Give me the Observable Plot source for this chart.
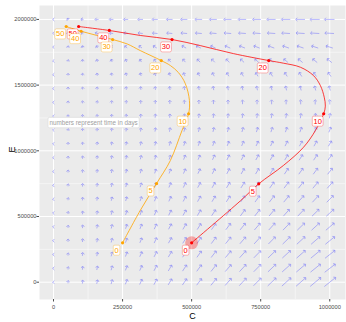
<!DOCTYPE html>
<html><head><meta charset="utf-8">
<script src="https://cdn.jsdelivr.net/npm/d3@7"></script>
<script src="https://cdn.jsdelivr.net/npm/@observablehq/plot@0.6"></script>
<style>body{margin:0;background:#fff} svg{display:block}</style>
</head><body><div id="chart"></div>
<script>
// ---- grid of the vector field ----
const colC = [0, 52632, 105263, 157895, 210526, 263158, 315789, 368421, 421053, 473684, 526316, 578947, 631579, 684211, 736842, 789474, 842105, 894737, 947368, 1000000];
const rowE = [2000000, 1894737, 1789474, 1684211, 1578947, 1473684, 1368421, 1263158, 1157895, 1052632, 947368, 842105, 736842, 631579, 526316, 421053, 315789, 210526, 105263, 0];
// estimated rates read from the arrows (rows top -> bottom)
const dCdt = [
[-0.3,-1,-2,-3,-3.5,-4,-4.5,-5,-5.5,-6,-6.5,-6.8,-7,-7.3,-7.6,-8,-8.3,-8.6,-9,-9.5],
[-0.3,-0.3,-1.5,-2.5,-3,-3.5,-4,-4.5,-5,-5.5,-5.8,-6.1,-6.4,-6.7,-7,-7.3,-7.6,-7.9,-8.2,-8.5],
[-0.3,-0.1,-0.5,-1,-1.5,-2,-2.5,-3,-3.3,-3.6,-4,-4.3,-4.6,-5,-5.2,-5.4,-5.6,-5.8,-6,-6.2],
[-0.3,0,-0.2,-0.5,-0.8,-1,-1.3,-1.6,-1.9,-2.2,-2.5,-2.7,-2.9,-3.1,-3.3,-3.5,-3.7,-3.9,-4,-4.2],
[-0.3,0,-0.1,-0.3,-0.4,-0.6,-0.8,-1,-1.1,-1.3,-1.5,-1.6,-1.8,-1.9,-2,-2.1,-2.2,-2.3,-2.4,-2.5],
[-0.3,0,0,-0.1,-0.2,-0.3,-0.3,-0.4,-0.5,-0.5,-0.6,-0.7,-0.7,-0.8,-0.8,-0.9,-0.9,-1,-1,-1.1],
[-0.3,0,0,0,0,0,0,0,0,0,0,0,0,0,0,0,0,0,0,0],
[-0.3,0,0,0.1,0.1,0.2,0.2,0.3,0.3,0.4,0.4,0.5,0.5,0.6,0.6,0.7,0.7,0.8,0.8,0.9],
[-0.3,0,0.1,0.2,0.3,0.4,0.5,0.6,0.7,0.8,0.9,1,1.1,1.2,1.3,1.4,1.5,1.6,1.7,1.8],
[-0.3,0,0.1,0.3,0.4,0.6,0.7,0.9,1,1.2,1.3,1.5,1.6,1.8,1.9,2.1,2.2,2.4,2.5,2.7],
[-0.3,0,0.2,0.3,0.5,0.7,0.9,1.1,1.3,1.5,1.7,1.9,2.1,2.3,2.5,2.7,2.9,3.1,3.3,3.5],
[-0.3,0,0.2,0.4,0.6,0.8,1,1.3,1.5,1.8,2,2.3,2.5,2.8,3,3.3,3.5,3.8,4,4.3],
[-0.3,0,0.2,0.4,0.7,0.9,1.2,1.5,1.8,2.1,2.4,2.7,3,3.3,3.6,3.9,4.2,4.5,4.8,5.1],
[-0.3,0,0.3,0.5,0.8,1.1,1.4,1.7,2,2.4,2.7,3,3.4,3.7,4.1,4.5,4.9,5.3,5.7,6.1],
[-0.3,0,0.3,0.5,0.8,1.2,1.5,1.9,2.3,2.7,3.1,3.5,3.9,4.3,4.7,5.1,5.5,6,6.5,7],
[-0.3,0,0.3,0.6,0.9,1.3,1.7,2.1,2.5,3,3.4,3.9,4.3,4.8,5.3,5.8,6.3,6.8,7.3,7.8],
[-0.3,0,0.3,0.6,1,1.4,1.8,2.3,2.8,3.3,3.8,4.3,4.8,5.3,5.8,6.4,7,7.6,8.2,8.8],
[-0.3,0,0.4,0.7,1.1,1.5,2,2.5,3,3.5,4,4.6,5.2,5.8,6.4,7,7.6,8.2,8.8,9.4],
[-0.3,0,0.4,0.7,1.1,1.6,2.1,2.6,3.1,3.7,4.3,4.9,5.5,6.1,6.7,7.3,8,8.7,9.4,10.1],
[-0.3,0,0.4,0.8,1.2,1.7,2.2,2.7,3.3,3.9,4.5,5.1,5.7,6.4,7.1,7.8,8.5,9.2,10,10.8]
];
const dEdt = [
[0,1,0.5,0,0,0,0,0,0,0,0,0,0,0,0,0,0,0,0,0],
[0,1.2,1,0.8,0.6,0.5,0.5,0.5,0.5,0.5,0.5,0.5,0.5,0.5,0.5,0.5,0.5,0.5,0.5,0.5],
[0,1.3,1.4,1.5,1.6,1.7,1.8,1.9,2,2,2,2,2,2,2,2,2,2,2,2],
[0,1.4,1.6,1.8,2,2.1,2.2,2.3,2.4,2.5,2.6,2.7,2.8,2.9,3,3,3.1,3.2,3.3,3.4],
[0,1.5,1.7,1.9,2.1,2.3,2.4,2.5,2.6,2.7,2.8,2.9,3,3.1,3.2,3.3,3.4,3.5,3.5,3.6],
[0,1.6,1.8,2,2.2,2.4,2.5,2.6,2.8,2.9,3,3.1,3.2,3.3,3.4,3.5,3.6,3.7,3.8,3.9],
[0,1.6,1.9,2.1,2.3,2.5,2.7,2.8,3,3.1,3.2,3.3,3.4,3.5,3.6,3.7,3.8,3.9,4,4.1],
[0,1.7,2,2.2,2.4,2.6,2.8,3,3.1,3.3,3.4,3.5,3.6,3.7,3.8,3.9,4,4.1,4.2,4.3],
[0,1.7,2,2.3,2.5,2.7,2.9,3.1,3.3,3.4,3.6,3.7,3.8,3.9,4,4.1,4.2,4.3,4.4,4.5],
[0,1.8,2.1,2.4,2.6,2.8,3,3.2,3.4,3.6,3.8,3.9,4,4.1,4.2,4.3,4.4,4.5,4.6,4.7],
[0,1.8,2.2,2.5,2.7,3,3.2,3.4,3.6,3.8,4,4.2,4.4,4.5,4.6,4.7,4.8,4.9,5,5.1],
[0,1.9,2.3,2.6,2.9,3.2,3.4,3.6,3.9,4.1,4.3,4.5,4.7,4.9,5,5.1,5.2,5.3,5.4,5.5],
[0,1.9,2.4,2.7,3,3.3,3.6,3.9,4.2,4.4,4.6,4.8,5,5.2,5.4,5.5,5.6,5.7,5.8,5.9],
[0,2,2.4,2.8,3.1,3.5,3.8,4.1,4.4,4.6,4.9,5.1,5.3,5.5,5.7,5.8,5.9,6,6.1,6.2],
[0,2,2.5,2.9,3.3,3.7,4,4.3,4.6,4.9,5.2,5.4,5.6,5.8,6,6.1,6.2,6.3,6.4,6.5],
[0,2,2.5,3,3.4,3.8,4.2,4.5,4.8,5.1,5.4,5.6,5.8,6,6.2,6.4,6.5,6.6,6.7,6.8],
[0,2.1,2.6,3.1,3.5,3.9,4.3,4.7,5,5.3,5.6,5.8,6,6.2,6.4,6.6,6.8,7,7.1,7.2],
[0,2.1,2.7,3.2,3.6,4,4.4,4.8,5.1,5.4,5.7,6,6.2,6.4,6.6,6.8,7,7.2,7.3,7.4],
[0,2.2,2.8,3.3,3.7,4.1,4.5,4.9,5.3,5.6,5.9,6.2,6.4,6.6,6.8,7,7.2,7.4,7.6,7.8],
[0,2.2,2.8,3.3,3.8,4.2,4.6,5,5.4,5.7,6,6.3,6.6,6.9,7.2,7.5,7.8,8.1,8.4,8.7]
];

// ---- axes ----
const xTicks = [0, 250000, 500000, 750000, 1000000];
const xMinor = [125000, 375000, 625000, 875000];
const yTicks = [0, 500000, 1000000, 1500000, 2000000];
const yMinor = [250000, 750000, 1250000, 1750000];

// ---- trajectories (traced) ----
const orangeC = [250000,314000,373000,423000,465000,489000,492000,477000,452000,423000,390000,314000,266000,214000,157000,100000,46000];
const orangeE = [300000,546000,751000,926000,1154000,1282000,1383000,1512000,1596000,1649000,1687000,1763000,1814000,1847000,1878000,1910000,1946000];
const redC = [500000,677000,743000,832000,905000,948000,978000,984000,980000,966000,941000,894000,832000,779000,651000,531000,429000,314000,202000,91000];
const redE = [300000,620000,749000,888000,1027000,1154000,1282000,1340000,1408000,1497000,1573000,1636000,1667000,1687000,1740000,1801000,1847000,1878000,1916000,1946000];

// ---- time-labelled points ----
const days = ["0","5","10","20","30","40","50"];
const orangePtC = [250000,373000,489000,390000,214000,100000,46000];
const orangePtE = [300000,751000,1282000,1687000,1847000,1910000,1946000];
const redPtC = [500000,743000,978000,779000,429000,202000,91000];
const redPtE = [300000,749000,1282000,1687000,1847000,1916000,1946000];

const noteText = "numbers represent time in days";
const noteC = -14500, noteE = 1215000;

// ---- build tables ----
const SX = 3623, SY = 7610; // display length scale of arrows
const field = [];
rowE.forEach((E, j) => colC.forEach((C, i) => {
  const u = dCdt[j][i] * SX / 2, v = dEdt[j][i] * SY / 2;
  field.push({x1: C - u, y1: E - v, x2: C + u, y2: E + v});
}));
const orangeLine = orangeC.map((c, i) => ({C: c, E: orangeE[i]}));
const redLine = redC.map((c, i) => ({C: c, E: redE[i]}));
const orangePts = days.map((t, i) => ({t, C: orangePtC[i], E: orangePtE[i]}));
const redPts = days.map((t, i) => ({t, C: redPtC[i], E: redPtE[i]}));

const FONT = "'Liberation Sans', Arial, sans-serif";

const svg = Plot.plot({
  width: 346, height: 322,
  marginLeft: 39, marginRight: 1, marginTop: 5, marginBottom: 23,
  x: {domain: [-50700, 1057000], label: null},
  y: {domain: [-131700, 2106000], label: null},
  style: {fontFamily: FONT, background: "white"},
  marks: [
    Plot.frame({fill: "#ebebeb", stroke: "none"}),
    Plot.gridX(xMinor, {stroke: "white", strokeOpacity: 1, strokeWidth: 0.5}),
    Plot.gridY(yMinor, {stroke: "white", strokeOpacity: 1, strokeWidth: 0.5}),
    Plot.gridX(xTicks, {stroke: "white", strokeOpacity: 1, strokeWidth: 1}),
    Plot.gridY(yTicks, {stroke: "white", strokeOpacity: 1, strokeWidth: 1}),
    Plot.axisX({ticks: xTicks, tickFormat: d3.format("d"), tickSize: 2.5, tickPadding: 3, fontSize: 5.7, color: "#4d4d4d", label: null}),
    Plot.axisY({ticks: yTicks, tickFormat: d3.format("d"), tickSize: 2.5, tickPadding: 0.5, fontSize: 5.7, color: "#4d4d4d", label: null}),
    Plot.link(field, {x1: "x1", y1: "y1", x2: "x2", y2: "y2", stroke: "#3a3aff", strokeOpacity: 0.5, strokeWidth: 0.7, markerEnd: "arrow"}),
    Plot.line(orangeLine, {x: "C", y: "E", stroke: "orange", strokeOpacity: 0.8, strokeWidth: 1, curve: "catmull-rom"}),
    Plot.line(redLine, {x: "C", y: "E", stroke: "red", strokeOpacity: 0.75, strokeWidth: 1, curve: "catmull-rom"}),
    Plot.dot(redPts.slice(0, 1), {x: "C", y: "E", r: 6.5, fill: "red", fillOpacity: 0.3}),
    Plot.dot(orangePts, {x: "C", y: "E", r: 1.6, fill: "orange"}),
    Plot.dot(redPts, {x: "C", y: "E", r: 1.6, fill: "red"}),
    Plot.text([noteText], {x: noteC, y: noteE, text: d => d, textAnchor: "start", fontSize: 6.3, fill: "#9e9e9e", fontFamily: FONT}),
    Plot.text(redPts, {x: "C", y: "E", text: "t", dx: -6, dy: 7.5, fontSize: 7.5, fill: "red", fontFamily: FONT}),
    Plot.text(orangePts, {x: "C", y: "E", text: "t", dx: -6, dy: 7.5, fontSize: 7.5, fill: "orange", fontFamily: FONT}),
    Plot.text(["C"], {frameAnchor: "bottom", text: d => d, dy: 19, fontSize: 9, fill: "black", fontFamily: FONT}),
    Plot.text(["E"], {frameAnchor: "left", text: d => d, dx: -27, rotate: -90, fontSize: 9, fill: "black", fontFamily: FONT})
  ]
});
document.getElementById("chart").append(svg);

// white label boxes behind time labels (like geom_label)
const boxStroke = {"red": "rgba(255,0,0,0.4)", "orange": "rgba(255,165,0,0.45)", "#9e9e9e": "#dcdcdc"};
svg.querySelectorAll('g[aria-label="text"]').forEach(g => {
  const f = g.getAttribute("fill");
  if (!(f in boxStroke)) return;
  g.querySelectorAll("text").forEach(t => {
    const bb = t.getBBox();
    const r = document.createElementNS("http://www.w3.org/2000/svg", "rect");
    const px = f === "#9e9e9e" ? 1.5 : 1.2, py = f === "#9e9e9e" ? 1.2 : 0.5;
    r.setAttribute("x", bb.x - px);
    r.setAttribute("y", bb.y - py);
    r.setAttribute("width", bb.width + 2 * px);
    r.setAttribute("height", bb.height + 2 * py);
    r.setAttribute("rx", 1.5);
    r.setAttribute("fill", "white");
    r.setAttribute("stroke", boxStroke[f]);
    r.setAttribute("stroke-width", 0.7);
    const tr = t.getAttribute("transform");
    if (tr) r.setAttribute("transform", tr);
    g.insertBefore(r, t);
  });
});
</script>
</body></html>
